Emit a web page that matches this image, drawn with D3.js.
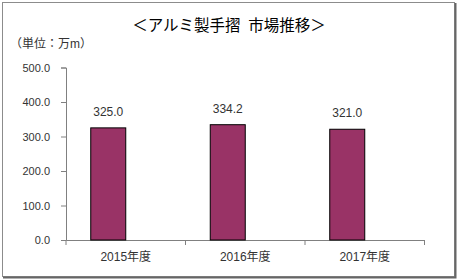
<!DOCTYPE html>
<html>
<head>
<meta charset="utf-8">
<script src="https://cdn.jsdelivr.net/npm/d3@7"></script>
<style>
  body { margin: 0; background: #fff; }
  text { font-family: "Liberation Sans", Arial, "Noto Sans CJK JP", sans-serif; }
</style>
</head>
<body>
<svg id="chart" width="458" height="280"></svg>
<script>
// data
const years = ["2015年度", "2016年度", "2017年度"];
const market = [325.0, 334.2, 321.0];
const yTicks = [0, 100, 200, 300, 400, 500];
// excel put an empty 2nd series next to it, so bars sit left of the band center
const seriesKeys = ["market", "blank"];

const svg = d3.select("#chart");

// frame with a bit of shadow on the right / bottom
svg.append("rect")
    .attr("x", 2.5).attr("y", 2.5)
    .attr("width", 452).attr("height", 274)
    .style("fill", "#fff")
    .style("stroke", "#8c8c8c")
    .style("stroke-width", 1);
svg.append("path")
    .attr("d", "M455.5,3 V277.5 H3")
    .style("fill", "none")
    .style("stroke", "#666")
    .style("stroke-width", 2);

const plot = { left: 66, right: 424.5, top: 67.5, bottom: 240 };

const x = d3.scaleBand()
    .domain(years)
    .range([plot.left, plot.right])
    .paddingInner(0)
    .paddingOuter(0);

const xInner = d3.scaleBand()
    .domain(seriesKeys)
    .range([0, x.bandwidth()])
    .paddingOuter(0.707)
    .paddingInner(0);

const y = d3.scaleLinear()
    .domain([0, 500])
    .range([plot.bottom, plot.top]);

// y axis
const yAxis = svg.append("g")
    .attr("transform", `translate(${plot.left},0)`)
    .call(d3.axisLeft(y).tickValues(yTicks).tickSize(5).tickPadding(11).tickFormat(d3.format(".1f")));
yAxis.select(".domain").style("stroke", "#808080");
yAxis.selectAll(".tick line").style("stroke", "#808080");
yAxis.selectAll("text").style("font-size", "11px").style("fill", "#333");

// x axis
const xAxis = svg.append("g")
    .attr("transform", `translate(0,${plot.bottom})`)
    .call(d3.axisBottom(x).tickSize(0).tickPadding(12));
xAxis.select(".domain").style("stroke", "#808080");
xAxis.selectAll("text").style("font-size", "12px").style("fill", "#333");

// category separators (ticks between bands)
svg.append("g")
    .selectAll("line")
    .data(years.concat(["end"]))
    .join("line")
    .attr("x1", (d, i) => plot.left + i * x.step())
    .attr("x2", (d, i) => plot.left + i * x.step())
    .attr("y1", plot.bottom)
    .attr("y2", plot.bottom + 5)
    .style("stroke", "#808080");

// bars
svg.append("g")
    .selectAll("rect")
    .data(market)
    .join("rect")
    .attr("x", (d, i) => x(years[i]) + xInner("market"))
    .attr("y", d => y(d))
    .attr("width", xInner.bandwidth())
    .attr("height", d => y(0) - y(d))
    .style("fill", "#993366")
    .style("stroke", "#000")
    .style("stroke-width", 1);

// value labels
svg.append("g")
    .selectAll("text")
    .data(market)
    .join("text")
    .attr("x", (d, i) => x(years[i]) + xInner("market") + xInner.bandwidth() / 2)
    .attr("y", d => y(d) - 12)
    .attr("text-anchor", "middle")
    .style("font-size", "12px")
    .style("fill", "#333")
    .text(d => d3.format(".1f")(d));

// title
svg.append("text")
    .attr("x", 229)
    .attr("y", 31)
    .attr("text-anchor", "middle")
    .style("font-size", "15.5px")
    .style("fill", "#000")
    .text("＜アルミ製手摺\u2002市場推移＞");

// unit
svg.append("text")
    .attr("x", 10)
    .attr("y", 48)
    .style("font-size", "12px")
    .style("fill", "#333")
    .text("（単位：万m）");
</script>
</body>
</html>
